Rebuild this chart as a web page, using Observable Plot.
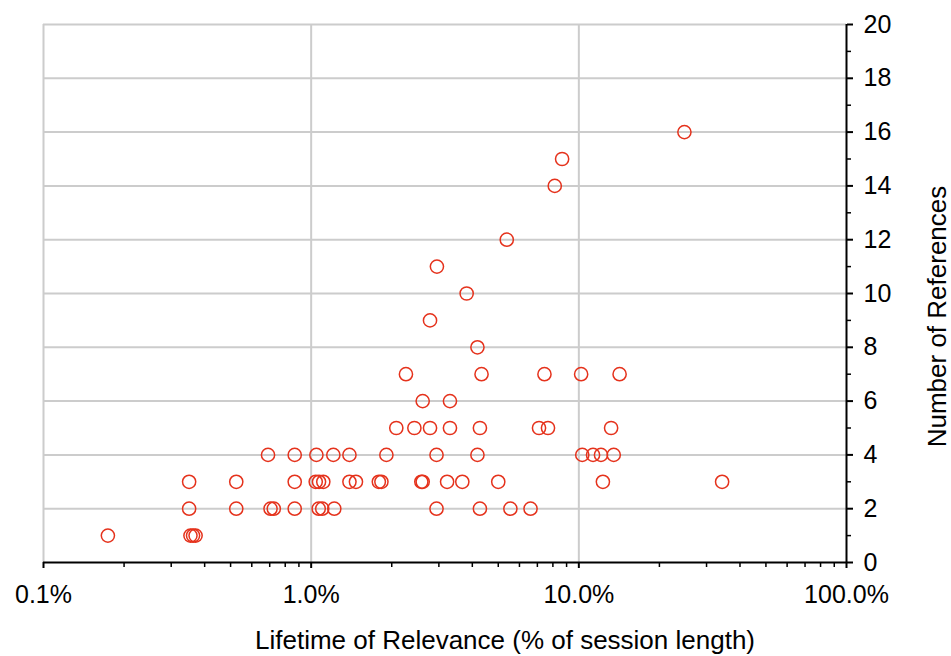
<!DOCTYPE html>
<html>
<head>
<meta charset="utf-8">
<script src="https://cdn.jsdelivr.net/npm/d3@7"></script>
<script src="https://cdn.jsdelivr.net/npm/@observablehq/plot@0.6"></script>
<style>
  html, body { margin: 0; padding: 0; background: #fff; }
  svg { font-family: "Liberation Sans", Arial, Helvetica, sans-serif; }
</style>
</head>
<body>
<div id="chart"></div>
<script>
// Lifetime of relevance (% of session length) per number of references
const refs1 = [0.174, 0.354, 0.362, 0.370];
const refs2 = [0.350, 0.525, 0.705, 0.725, 0.868, 1.067, 1.10, 1.22, 2.94, 4.27, 5.55, 6.60];
const refs3 = [0.350, 0.525, 0.868, 1.04, 1.07, 1.11, 1.39, 1.47, 1.79, 1.83, 2.58, 2.61, 3.22, 3.67, 5.00, 12.3, 34.3];
const refs4 = [0.69, 0.868, 1.046, 1.21, 1.39, 1.91, 2.94, 4.18, 10.3, 11.3, 12.1, 13.5];
const refs5 = [2.08, 2.43, 2.78, 3.30, 4.27, 7.10, 7.67, 13.2];
const refs6 = [2.61, 3.30];
const refs7 = [2.26, 4.33, 7.44, 10.2, 14.2];
const refs8 = [4.18];
const refs9 = [2.78];
const refs10 = [3.81];
const refs11 = [2.95];
const refs12 = [5.38];
const refs14 = [8.13];
const refs15 = [8.66];
const refs16 = [24.8];

const xMajorTicks = [0.1, 1, 10, 100];
const xTickLabels = ["0.1%", "1.0%", "10.0%", "100.0%"];
const yMajorTicks = [0, 2, 4, 6, 8, 10, 12, 14, 16, 18, 20];
const yMinorTicks = [1, 3, 5, 7, 9, 11, 13, 15, 17, 19];
const xTitle = "Lifetime of Relevance (% of session length)";
const yTitle = "Number of References";

const groups = [
  [1, refs1], [2, refs2], [3, refs3], [4, refs4], [5, refs5], [6, refs6], [7, refs7],
  [8, refs8], [9, refs9], [10, refs10], [11, refs11], [12, refs12], [14, refs14],
  [15, refs15], [16, refs16]
];
const data = groups.flatMap(([n, xs]) => xs.map(v => ({x: v, y: n})));

const xMinorTicks = [];
for (const d of [0.1, 1, 10]) for (let k = 2; k <= 9; k++) xMinorTicks.push(+(d * k).toPrecision(3));

const red = "#e5321c";
const grid = "#cccccc";

const chart = Plot.plot({
  width: 951,
  height: 656,
  marginLeft: 43,
  marginRight: 105,
  marginTop: 24,
  marginBottom: 94,
  style: {fontFamily: "'Liberation Sans', Arial, Helvetica, sans-serif", fontSize: "25px", color: "#000", background: "#fff"},
  x: {type: "log", domain: [0.1, 100]},
  y: {domain: [0, 20]},
  marks: [
    Plot.gridY(yMajorTicks.slice(1), {stroke: grid, strokeOpacity: 1, strokeWidth: 2}),
    Plot.gridX([0.1, 1, 10], {stroke: grid, strokeOpacity: 1, strokeWidth: 2}),
    Plot.ruleY([0], {stroke: "#000", strokeWidth: 2}),
    Plot.ruleX([100], {stroke: "#000", strokeWidth: 2}),
    Plot.axisX(xMinorTicks, {tickSize: 5, strokeWidth: 1.5, text: null, label: null}),
    Plot.axisX(xMajorTicks, {tickSize: 6, strokeWidth: 2, tickPadding: 17, label: null,
      tickFormat: d => xTickLabels[xMajorTicks.indexOf(d)], fontSize: 25}),
    Plot.axisY(yMinorTicks, {anchor: "right", tickSize: 4, strokeWidth: 1.5, text: null, label: null}),
    Plot.axisY(yMajorTicks, {anchor: "right", tickSize: 6, strokeWidth: 2, tickPadding: 11, label: null, fontSize: 25}),
    Plot.dot(data, {x: "x", y: "y", r: 6.6, stroke: red, strokeWidth: 1.5, fill: "none"}),
    Plot.text([xTitle], {frameAnchor: "bottom", lineAnchor: "middle", textAnchor: "middle", dx: 60, dy: 78, fontSize: 26, fill: "#000"}),
    Plot.text([yTitle], {frameAnchor: "right", lineAnchor: "middle", textAnchor: "middle", dx: 91, dy: 23, rotate: -90, fontSize: 26, fill: "#000"})
  ]
});
document.getElementById("chart").append(chart);
</script>
</body>
</html>
